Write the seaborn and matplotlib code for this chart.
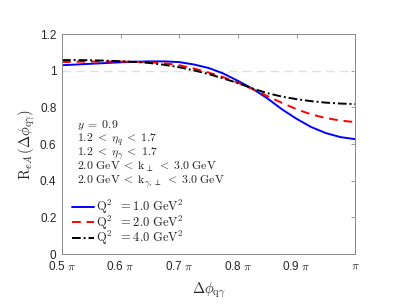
import matplotlib
matplotlib.use("Agg")
import matplotlib.pyplot as plt
import pandas as pd
import seaborn as sns

# delta phi in units of pi
dphi = [0.500, 0.525, 0.550, 0.575, 0.600, 0.625, 0.650, 0.675, 0.700, 0.725, 0.750,
        0.775, 0.800, 0.825, 0.850, 0.875, 0.900, 0.925, 0.950, 0.975, 1.000]

r_q2_1 = [1.030, 1.034, 1.038, 1.042, 1.046, 1.049, 1.051, 1.051, 1.047, 1.034, 1.015,
          0.985, 0.945, 0.902, 0.850, 0.790, 0.738, 0.693, 0.660, 0.638, 0.627]
r_q2_2 = [1.047, 1.049, 1.050, 1.050, 1.050, 1.049, 1.046, 1.041, 1.030, 1.012, 0.990,
          0.965, 0.935, 0.900, 0.862, 0.825, 0.790, 0.762, 0.742, 0.728, 0.720]
r_q2_4 = [1.058, 1.058, 1.057, 1.055, 1.052, 1.048, 1.042, 1.032, 1.019, 1.002, 0.982,
          0.958, 0.933, 0.903, 0.878, 0.859, 0.845, 0.834, 0.826, 0.821, 0.818]

labels = [r"$\mathrm{Q}^2\ \ = 1.0\ \mathrm{GeV}^2$",
          r"$\mathrm{Q}^2\ \ = 2.0\ \mathrm{GeV}^2$",
          r"$\mathrm{Q}^2\ \ = 4.0\ \mathrm{GeV}^2$"]
colors = ["#0000ff", "#ff0000", "#000000"]
dashes = ["-", (0, (4.5, 3)), (0, (4.5, 1.5, 1, 1.5))]

xticks = [0.5, 0.6, 0.7, 0.8, 0.9, 1.0]
xticklabels = [r"0.5 $\pi$", r"0.6 $\pi$", r"0.7 $\pi$", r"0.8 $\pi$", r"0.9 $\pi$", r"$\pi$"]
yticks = [0, 0.2, 0.4, 0.6, 0.8, 1.0, 1.2]
yticklabels = ["0", "0.2", "0.4", "0.6", "0.8", "1", "1.2"]

notes = [r"$y\;=\;0.9$",
         r"$1.2\;<\;\eta_q\;<\;1.7$",
         r"$1.2\;<\;\eta_\gamma\;<\;1.7$",
         r"$2.0\ \mathrm{GeV}\;<\;\mathrm{k}_\perp\;<\;3.0\ \mathrm{GeV}$",
         r"$2.0\ \mathrm{GeV}\;<\;\mathrm{k}_{\gamma,\perp}\;<\;3.0\ \mathrm{GeV}$"]

sns.set_style("white")
plt.rcParams["font.family"] = ["Liberation Sans", "DejaVu Sans"]
plt.rcParams["mathtext.fontset"] = "cm"

fig = plt.figure(figsize=(4.05, 3.04), dpi=100)
ax = fig.add_axes([0.153, 0.164, 0.724, 0.724])

ax.axhline(1.0, color="#e0e0e0", lw=1.0, ls=(0, (6, 4)), zorder=1)

for series, lab, c, d in zip([r_q2_1, r_q2_2, r_q2_4], labels, colors, dashes):
    df = pd.DataFrame({"dphi": dphi, "R": series})
    sns.lineplot(data=df, x="dphi", y="R", color=c, lw=1.4, ax=ax, label=lab)
    ax.lines[-1].set_linestyle(d)

ax.set_xlim(0.5, 1.0)
ax.set_ylim(0, 1.2)
ax.set_xticks(xticks)
ax.set_xticklabels(xticklabels, fontsize=8.5)
ax.set_yticks(yticks)
ax.set_yticklabels(yticklabels, fontsize=8.5)
ax.tick_params(direction="in", length=3, width=0.6, colors="#888888",
               labelcolor="#262626", top=True, right=True, pad=4)
for s in ax.spines.values():
    s.set_color("#888888")
    s.set_linewidth(0.7)

ax.set_xlabel(r"$\Delta\phi_{\mathrm{q}\gamma}$", fontsize=10.5, labelpad=6, color="#262626")
ax.set_ylabel(r"$\mathrm{R}_{eA}\,(\Delta\phi_{\mathrm{q}\gamma})$", fontsize=10.5,
              labelpad=2, color="#262626")

for i, t in enumerate(notes):
    ax.text(0.05, 0.586 - i * 0.064, t, transform=ax.transAxes, fontsize=8.5,
            color="#222222", va="center")

ax.legend(loc="lower left", bbox_to_anchor=(0.025, 0.02), frameon=False, fontsize=9,
          handlelength=1.75, handletextpad=0.2, labelspacing=-0.2, borderaxespad=0.0,
          borderpad=0.2)

fig.savefig("out.png", dpi=100)
